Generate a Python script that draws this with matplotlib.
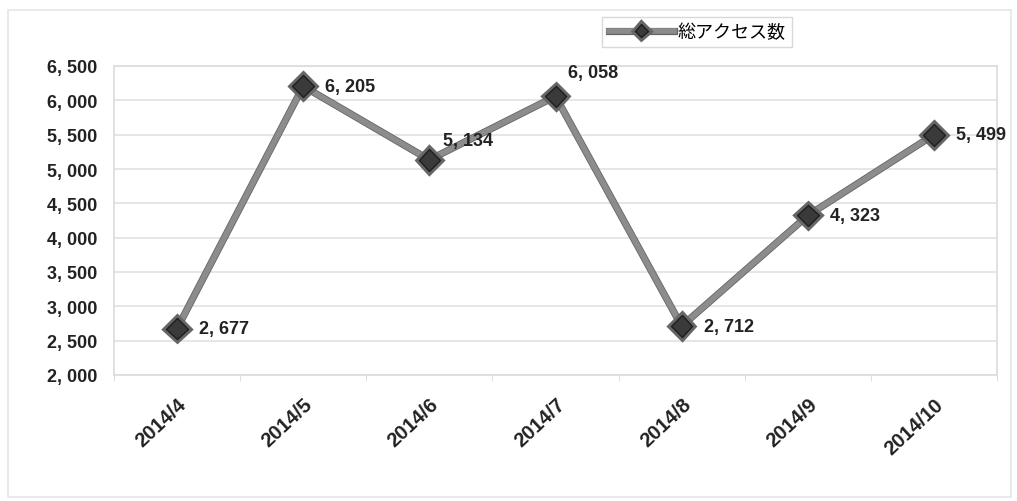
import matplotlib.pyplot as plt
import matplotlib.patheffects as pe
from matplotlib.patches import Rectangle
import numpy as np

months = ["2014/4", "2014/5", "2014/6", "2014/7", "2014/8", "2014/9", "2014/10"]
access = [2677, 6205, 5134, 6058, 2712, 4323, 5499]
series_name = "総アクセス数"
y_ticks = [2000, 2500, 3000, 3500, 4000, 4500, 5000, 5500, 6000, 6500]
# label offsets (points) as Excel placed them
label_dx = [16, 16, 10, 9, 16, 16, 16]
label_dy = [0, 0, 14, 17, 0, 0, 0]

num_font = ["Liberation Sans", "DejaVu Sans"]
jp_font = ["Noto Sans CJK JP", "DejaVu Sans"]


def fmt(v):
    # Excel style "6, 500"
    s = f"{v:,}"
    return s.replace(",", ", ")


fig = plt.figure(figsize=(10.17, 5.02), dpi=100)
ax = fig.add_axes([114 / 1017, 1 - 376 / 502, (997 - 114) / 1017, (376 - 67) / 502])

# faint outer chart frame
fig.patches.append(Rectangle((8 / 1017, 4 / 502), 1003 / 1017, 487 / 502,
                             transform=fig.transFigure, fill=False,
                             edgecolor="#e6e6e6", linewidth=1.2))

x = np.arange(len(months))
line, = ax.plot(x, access, color="#8c8c8c", linewidth=4.0, marker="D",
                markersize=11, markerfacecolor="#3a3a3a",
                markeredgecolor="#1e1e1e", markeredgewidth=1.0,
                label=series_name, zorder=3)
line.set_path_effects([pe.Stroke(linewidth=5.2, foreground="#666666"), pe.Normal()])

for xi, v, dx, dy in zip(x, access, label_dx, label_dy):
    ax.annotate(fmt(v), (xi, v), xytext=(dx, dy), textcoords="offset points",
                ha="left", va="center", fontsize=13, fontweight="bold",
                family=num_font, color="#222222")

ax.set_xlim(-0.5, len(months) - 0.5)
ax.set_ylim(2000, 6500)
ax.set_yticks(y_ticks)
ax.set_yticklabels([fmt(v) for v in y_ticks], family=num_font,
                   fontsize=13, fontweight="bold", color="#222222")
ax.set_xticks(x)
ax.set_xticklabels(months, rotation=43, ha="right", rotation_mode="anchor",
                   family=num_font, fontsize=14.5, fontweight="bold", color="#222222")
ax.tick_params(axis="y", length=0, pad=12)
ax.tick_params(axis="x", length=0, pad=14)
ax.set_xticks(np.arange(-0.5, len(months)), minor=True)
ax.tick_params(axis="x", which="minor", length=4, color="#d8d8d8")

ax.grid(axis="y", color="#e2e2e2", linewidth=1.2)
ax.set_axisbelow(True)
for s in ax.spines.values():
    s.set_color("#dcdcdc")
    s.set_linewidth(1.2)

leg = ax.legend(loc="center", bbox_to_anchor=(697 / 1017, 1 - 33 / 502),
                bbox_transform=fig.transFigure, frameon=True, fancybox=False,
                prop={"family": jp_font, "size": 13}, handlelength=3.6,
                markerscale=0.6, borderpad=0.35, handletextpad=0.2,
                borderaxespad=0)
leg.get_frame().set_edgecolor("#d0d0d0")
leg.get_frame().set_linewidth(1.0)

fig.savefig("out.png", dpi=100)
